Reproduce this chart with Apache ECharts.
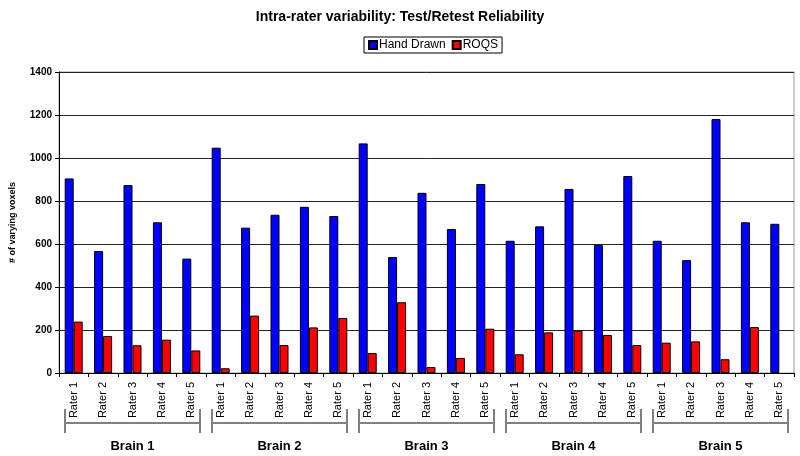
<!DOCTYPE html>
<html>
<head>
<meta charset="utf-8">
<script src="https://cdn.jsdelivr.net/npm/echarts@6/dist/echarts.min.js"></script>
<style>html,body{margin:0;padding:0;background:#fff}#c{width:800px;height:456px}</style>
</head>
<body>
<div id="c"></div>
<script>
var title = 'Intra-rater variability: Test/Retest Reliability';
var yName = '# of varying voxels';
var raters = ['Rater 1','Rater 2','Rater 3','Rater 4','Rater 5'];
var brains = ['Brain 1','Brain 2','Brain 3','Brain 4','Brain 5'];
var seriesNames = ['Hand Drawn','ROQS'];
var handDrawn = [905,567,874,701,532, 1048,676,736,773,730, 1068,539,838,670,879, 615,682,856,595,916, 615,525,1181,701,694];
var roqs      = [239,172,129,155,105, 22,267,130,212,256, 93,329,28,70,206, 87,189,197,177,130, 141,147,64,214,null];

var categories = [];
brains.forEach(function(){ raters.forEach(function(r){ categories.push(r); }); });

var font = 'Liberation Sans, Arial, sans-serif';
var chart = echarts.init(document.getElementById('c'), null, {renderer:'canvas'});
var option = {
  animation: false,
  backgroundColor: '#fff',
  title: {
    text: title, left: 'center', top: 5,
    textStyle: {fontFamily: font, fontSize: 14, fontWeight: 'bold', color: '#000'}
  },
  legend: {
    data: seriesNames, left: 364, top: 37,
    icon: 'rect', itemWidth: 8, itemHeight: 8, itemGap: 6,
    padding: [2, 4], borderColor: '#000', borderWidth: 1,
    textStyle: {fontFamily: font, fontSize: 12, color: '#000', padding: [0,0,0,-3]}
  },
  grid: {left: 57, right: 6, top: 72, bottom: 83, show: true, borderColor: '#999', borderWidth: 1},
  xAxis: {
    type: 'category', data: categories,
    axisLine: {lineStyle: {color: '#000', width: 1}},
    axisTick: {show: true, length: 4, lineStyle: {color: '#000'}},
    axisLabel: {rotate: 90, margin: 9, interval: 0, fontFamily: font, fontSize: 11, color: '#000'}
  },
  yAxis: {
    type: 'value', min: 0, max: 1400, interval: 200,
    name: yName, nameLocation: 'middle', nameGap: 42,
    nameTextStyle: {fontFamily: font, fontSize: 9, fontWeight: 'bold', color: '#000'},
    axisLine: {show: true, lineStyle: {color: '#000'}},
    axisTick: {show: true, length: 4, lineStyle: {color: '#000'}},
    axisLabel: {margin: 7, fontFamily: font, fontSize: 10, fontWeight: 'bold', color: '#000',
                formatter: function(v){ return String(v); }},
    splitLine: {lineStyle: {color: '#222', width: 1}}
  },
  series: [
    {name: seriesNames[0], type: 'bar', data: handDrawn, barWidth: 9, barGap: '0%',
     itemStyle: {color: '#0000ff', borderColor: '#000', borderWidth: 1}},
    {name: seriesNames[1], type: 'bar', data: roqs, barWidth: 9,
     itemStyle: {color: '#ff0000', borderColor: '#000', borderWidth: 1}}
  ]
};
chart.setOption(option);

// group brackets computed from the category axis scale
var step = chart.convertToPixel({xAxisIndex: 0}, 1) - chart.convertToPixel({xAxisIndex: 0}, 0);
var graphics = [];
var yLine = 423, yTop = 409, yBot = 433;
brains.forEach(function(b, bi){
  var xl = chart.convertToPixel({xAxisIndex: 0}, bi*5) - step/2 + 6;
  var xr = chart.convertToPixel({xAxisIndex: 0}, bi*5+4) + step/2 - 6;
  var st = {stroke: '#808080', lineWidth: 2};
  graphics.push({type:'line', shape:{x1:xl, y1:yLine, x2:xr, y2:yLine}, style: st});
  graphics.push({type:'line', shape:{x1:xl, y1:yTop, x2:xl, y2:yBot}, style: st});
  graphics.push({type:'line', shape:{x1:xr, y1:yTop, x2:xr, y2:yBot}, style: st});
  graphics.push({type:'text', x:(xl+xr)/2, y:446,
    style:{text:b, fill:'#000', font:'bold 13px ' + font, align:'center', verticalAlign:'middle'}});
});
chart.setOption({graphic: graphics});
</script>
</body>
</html>
